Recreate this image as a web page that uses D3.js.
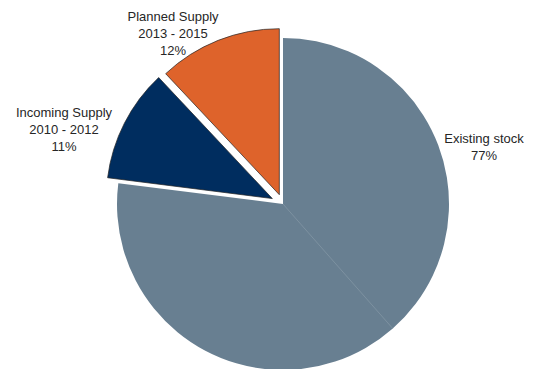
<!DOCTYPE html>
<html>
<head>
<meta charset="utf-8">
<script src="https://cdn.jsdelivr.net/npm/d3@7"></script>
<style>
  body { margin: 0; background: #fff; }
  text { font-family: "Liberation Sans", Arial, sans-serif; font-size: 13px; fill: #262626; }
</style>
</head>
<body>
<script>
// data
var names = ["Existing stock", "Incoming Supply", "Planned Supply"];
var periods = ["", "2010 - 2012", "2013 - 2015"];
var shares = [77, 11, 12];
var colors = ["#687f91", "#002d5f", "#de632b"];
var exploded = [0, 12, 10];

var width = 534, height = 369;
var cx = 283, cy = 204, r = 166;

// label anchors (centre x, first baseline y) relative to the pie centre
var labelAt = [[201, -61], [-219, -87], [-110, -183]];

var svg = d3.select("body").append("svg")
    .attr("width", width).attr("height", height);

var g = svg.append("g").attr("transform", "translate(" + cx + "," + cy + ")");

var pie = d3.pie().sort(null).value(function (d) { return d; });
var arcs = pie(shares);
var arc = d3.arc().innerRadius(0).outerRadius(r);

g.selectAll("path.slice")
  .data(arcs)
  .enter().append("path")
    .attr("class", "slice")
    .attr("d", arc)
    .attr("transform", function (d, i) {
      var a = (d.startAngle + d.endAngle) / 2;
      return "translate(" + (Math.sin(a) * exploded[i]) + "," + (-Math.cos(a) * exploded[i]) + ")";
    })
    .style("fill", function (d, i) { return colors[i]; })
    .style("stroke", function (d, i) { return exploded[i] ? "#222" : "none"; })
    .style("stroke-width", 0.7);

// faint seam through the middle of the big slice
var mid = (arcs[0].startAngle + arcs[0].endAngle) / 2;
g.append("line")
  .attr("x1", 0).attr("y1", 0)
  .attr("x2", Math.sin(mid) * r).attr("y2", -Math.cos(mid) * r)
  .style("stroke", "#8c9dab").style("stroke-width", 0.6);

// labels
arcs.forEach(function (d, i) {
  var lines = [names[i]];
  if (periods[i]) lines.push(periods[i]);
  lines.push(shares[i] + "%");
  var t = g.append("text")
    .attr("text-anchor", "middle")
    .attr("x", labelAt[i][0])
    .attr("y", labelAt[i][1]);
  lines.forEach(function (s, k) {
    t.append("tspan")
      .attr("x", labelAt[i][0])
      .attr("dy", k ? 17 : 0)
      .text(s);
  });
});
</script>
</body>
</html>
